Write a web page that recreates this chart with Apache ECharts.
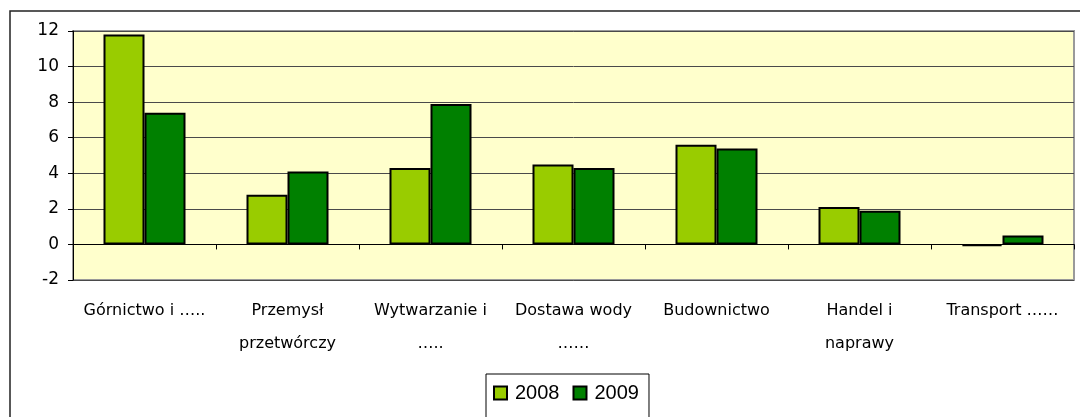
<!DOCTYPE html>
<html>
<head>
<meta charset="utf-8">
<script src="https://cdn.jsdelivr.net/npm/echarts@6/dist/echarts.min.js"></script>
<style>html,body{margin:0;padding:0;background:#fff}#c{width:1080px;height:417px}</style>
</head>
<body>
<div id="c"></div>
<script>
var categories = ['Górnictwo i …..', 'Przemysł\nprzetwórczy', 'Wytwarzanie i\n…..', 'Dostawa wody\n……', 'Budownictwo', 'Handel i\nnaprawy', 'Transport ……'];
var values2008 = [11.8, 2.8, 4.3, 4.5, 5.6, 2.1, -0.1];
var values2009 = [7.4, 4.1, 7.9, 4.3, 5.4, 1.9, 0.5];
var yTicks = { min: -2, max: 12, interval: 2 };

var chart = echarts.init(document.getElementById('c'), null, { renderer: 'canvas' });
var labelFont = 'DejaVu Sans';
chart.setOption({
  animation: false,
  backgroundColor: '#ffffff',
  graphic: [{
    type: 'rect', z: -10,
    shape: { x: 10, y: 11, width: 1200, height: 600 },
    style: { fill: 'none', stroke: '#222', lineWidth: 1.5 }
  }],
  grid: {
    left: 73, top: 31, right: 6, bottom: 137,
    containLabel: false, outerBoundsMode: 'none',
    show: true, backgroundColor: '#FFFFCC', borderColor: '#9A9A9A', borderWidth: 2
  },
  legend: {
    left: 486, top: 374,
    data: ['2008', '2009'],
    orient: 'horizontal',
    icon: 'rect', itemWidth: 13, itemHeight: 13, itemGap: 13,
    borderColor: '#000', borderWidth: 1,
    padding: [9, 10, 30, 7],
    textStyle: { fontFamily: 'Liberation Sans', fontSize: 20, color: '#000', padding: [0, 0, 0, 3] }
  },
  xAxis: {
    type: 'category',
    data: categories,
    axisLine: { onZero: true, lineStyle: { color: '#000', width: 1 } },
    axisTick: { show: true, length: 5, lineStyle: { color: '#000' } },
    axisLabel: { margin: 14, fontFamily: labelFont, fontSize: 16, lineHeight: 33, color: '#000', interval: 0 },
    splitLine: { show: false }
  },
  yAxis: {
    type: 'value',
    min: yTicks.min, max: yTicks.max, interval: yTicks.interval,
    axisLine: { show: true, lineStyle: { color: '#000', width: 1 } },
    axisTick: { show: true, length: 5, lineStyle: { color: '#000' } },
    axisLabel: { fontFamily: labelFont, fontSize: 17, color: '#000', margin: 14 },
    splitLine: { show: true, lineStyle: { color: '#4a4a4a', width: 1 } }
  },
  series: [{
    name: '2008', type: 'bar', data: values2008,
    barWidth: 41, barGap: '0%',
    itemStyle: { color: '#99CC00', borderColor: '#000', borderWidth: 2 }
  }, {
    name: '2009', type: 'bar', data: values2009,
    barWidth: 41, barGap: '0%',
    itemStyle: { color: '#008000', borderColor: '#000', borderWidth: 2 }
  }]
});
</script>
</body>
</html>
